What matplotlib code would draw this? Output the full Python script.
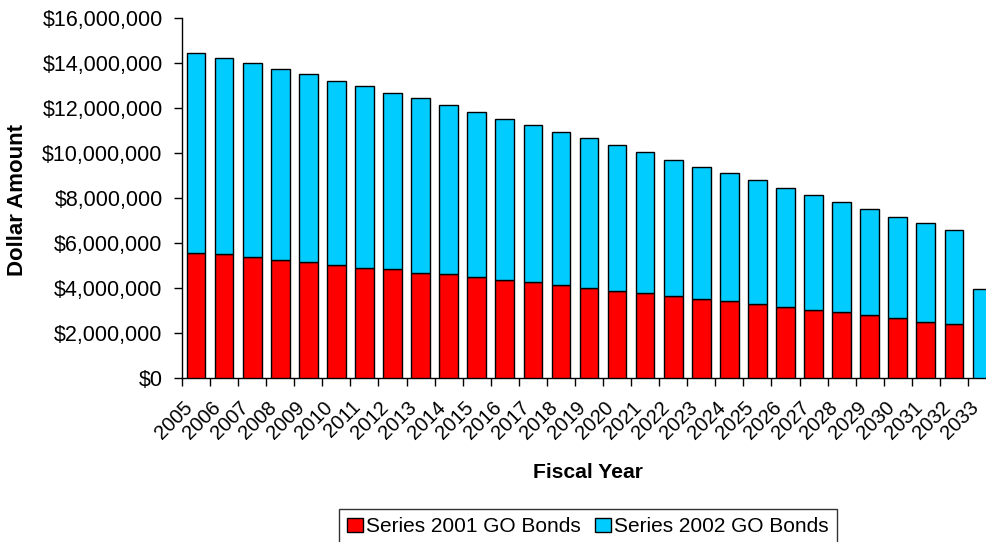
import matplotlib
matplotlib.use("Agg")
import matplotlib.pyplot as plt
from matplotlib.ticker import FuncFormatter, MultipleLocator

plt.rcParams['font.family'] = ['Liberation Sans', 'DejaVu Sans']

years = [str(y) for y in range(2005, 2034)]
series_2001 = [5560000, 5500000, 5380000, 5260000, 5140000, 5020000, 4900000, 4840000,
               4670000, 4610000, 4490000, 4370000, 4250000, 4130000, 4010000, 3880000,
               3760000, 3640000, 3520000, 3410000, 3290000, 3170000, 3040000, 2930000,
               2800000, 2680000, 2500000, 2390000, 0]
series_2002 = [8900000, 8720000, 8610000, 8490000, 8370000, 8180000, 8060000, 7840000,
               7760000, 7520000, 7350000, 7150000, 6980000, 6820000, 6640000, 6480000,
               6280000, 6050000, 5860000, 5690000, 5500000, 5260000, 5090000, 4910000,
               4730000, 4490000, 4370000, 4190000, 3940000]
labels = ["Series 2001 GO Bonds", "Series 2002 GO Bonds"]
colors = ["#FF0000", "#00CCFF"]

W, H = 987, 542
fig = plt.figure(figsize=(W / 100, H / 100), dpi=100)
ax = fig.add_axes([182 / W, 164 / H, 814 / W, 360 / H])

x = list(range(len(years)))
bw = 0.667
ax.bar(x, series_2001, width=bw, color=colors[0], edgecolor='black', linewidth=1.0,
       label=labels[0], zorder=3)
ax.bar(x, series_2002, width=bw, bottom=series_2001, color=colors[1], edgecolor='black',
       linewidth=1.0, label=labels[1], zorder=3)

ax.set_xlim(-0.5, len(years) - 0.5)
ax.set_ylim(0, 16000000)
ax.yaxis.set_major_locator(MultipleLocator(2000000))
ax.yaxis.set_major_formatter(FuncFormatter(lambda v, p: "${:,.0f}".format(v)))

ax.set_xticks([i - 0.5 for i in range(len(years) + 1)], minor=False)
ax.set_xticklabels([])
ax.set_xticks([i - 0.47 for i in x], minor=True)
ax.set_xticklabels(years, minor=True, rotation=45, ha='right', rotation_mode='anchor',
                   fontsize=14.5)
ax.tick_params(axis='x', which='major', length=6, width=1, direction='out')
ax.tick_params(axis='x', which='minor', length=0, pad=14)
ax.tick_params(axis='y', length=6, width=1, direction='out', labelsize=15.5, pad=8)

for s in ['top', 'right']:
    ax.spines[s].set_visible(False)
for s in ['left', 'bottom']:
    ax.spines[s].set_linewidth(1.0)

fig.text(588 / W, 1 - 473 / H, "Fiscal Year", ha='center', va='center',
         fontsize=15.2, fontweight='bold')
fig.text(18 / W, 1 - 200 / H, "Dollar Amount", ha='center', va='center',
         rotation=90, fontsize=16, fontweight='bold')

leg = fig.legend(loc='upper center', bbox_to_anchor=(588 / W, 1 - 509 / H), ncol=2,
                 frameon=True, fancybox=False, edgecolor='black', fontsize=15,
                 handlelength=0.75, handleheight=0.65, handletextpad=0.15,
                 columnspacing=0.7, borderpad=0.4, borderaxespad=0)
leg.get_frame().set_linewidth(1.0)

fig.savefig("out.png", dpi=100)
